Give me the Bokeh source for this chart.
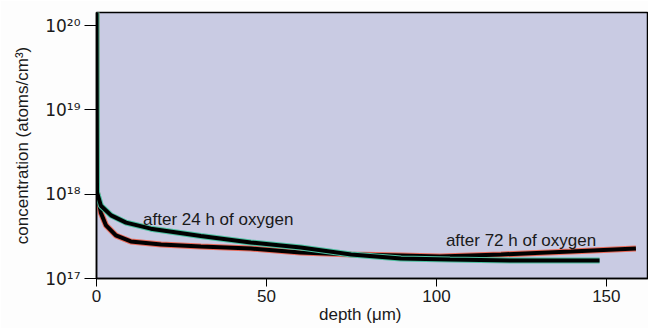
import numpy as np
from bokeh.plotting import figure
from bokeh.models import Range1d, FixedTicker, Label, LinearAxis, CustomJSTickFormatter
from bokeh.embed import file_html
from bokeh.resources import INLINE

# data
depth_24h = [0, 0.15, 1.3, 4.3, 8.7, 16, 30.7, 45.4, 60.1, 74.9, 89.6, 104, 125, 148]
conc_24h = [1.5e20, 1.05e18, 7.3e17, 5.6e17, 4.6e17, 3.9e17, 3.2e17, 2.67e17, 2.33e17,
            1.93e17, 1.73e17, 1.68e17, 1.63e17, 1.63e17]
depth_72h = [0, 0.15, 1.3, 2.8, 5.7, 10.1, 19, 30.7, 45.4, 60, 75, 89.6, 101, 119, 139.6, 158.7]
conc_72h = [1.5e20, 1.05e18, 6.0e17, 4.26e17, 3.24e17, 2.75e17, 2.53e17, 2.4e17, 2.27e17,
            2.04e17, 1.93e17, 1.87e17, 1.82e17, 1.93e17, 2.09e17, 2.27e17]
x_ticks = [0, 50, 100, 150]
y_ticks = [1e17, 1e18, 1e19, 1e20]
y_tick_labels = ["10\u00b9\u2077", "10\u00b9\u2078", "10\u00b9\u2079", "10\u00b2\u2070"]
x_title = "depth (\u03bcm)"
x_title_at = 77.6
y_title = "concentration (atoms/cm\u00b3)"
label_24h = ("after 24 h of oxygen", 13.7, 5.0e17)
label_72h = ("after 72 h of oxygen", 102.8, 2.82e17)

FONT = "Liberation Sans"
INK = "#1a1a1a"

p = figure(width=648, height=328, output_backend="svg", toolbar_location=None,
           y_axis_type="log",
           x_range=Range1d(0, 162.4), y_range=Range1d(1e17, 10**20.155))
p.min_border_left = 96
p.min_border_right = 0
p.min_border_top = 12
p.min_border_bottom = 50
p.background_fill_color = "#c9cbe3"
p.border_fill_color = "#fdfdfd"
p.outline_line_color = "black"
p.outline_line_width = 1.5
p.grid.visible = False

# curves: coloured halo under black stroke
p.line(depth_72h, conc_72h, line_color="#e86a5a", line_width=6)
p.line(depth_72h, conc_72h, line_color="black", line_width=4)
p.line(depth_24h, conc_24h, line_color="#4cc0a0", line_width=6)
p.line(depth_24h, conc_24h, line_color="black", line_width=4)

for txt, x, y in (label_24h, label_72h):
    p.add_layout(Label(x=x, y=y, text=txt, text_font=FONT, text_font_size="17px",
                       text_color=INK, text_baseline="alphabetic"))

xa = p.xaxis[0]
xa.ticker = FixedTicker(ticks=x_ticks)
xa.minor_tick_line_color = None
xa.major_tick_out = 8
xa.major_tick_in = 0
xa.major_label_text_font = FONT
xa.major_label_text_font_size = "17px"
xa.major_label_text_color = INK
xa.major_label_standoff = 3
xa.axis_line_color = "black"
xa.axis_line_width = 1.5

# x-axis title as a one-tick axis so it sits where the reference has it
xt = LinearAxis(ticker=FixedTicker(ticks=[x_title_at]),
                formatter=CustomJSTickFormatter(args=dict(t=x_title), code="return t;"))
xt.axis_line_color = None
xt.major_tick_line_color = None
xt.minor_tick_line_color = None
xt.major_tick_out = 0
xt.major_tick_in = 0
xt.major_label_standoff = 0
xt.major_label_text_font = FONT
xt.major_label_text_font_size = "17px"
xt.major_label_text_color = INK
p.add_layout(xt, "below")

ya = p.yaxis[0]
ya.ticker = FixedTicker(ticks=y_ticks)
ya.formatter = CustomJSTickFormatter(args=dict(labels=y_tick_labels),
                                     code="return labels[Math.round(Math.log10(tick)) - 17];")
ya.minor_tick_line_color = None
ya.major_tick_out = 12
ya.major_tick_in = 0
ya.major_label_text_font = "DejaVu Sans"
ya.major_label_text_font_size = "17px"
ya.major_label_text_color = INK
ya.major_label_standoff = 4
ya.axis_line_color = "black"
ya.axis_line_width = 1.5
ya.axis_label = y_title
ya.axis_label_text_font = FONT
ya.axis_label_text_font_size = "17px"
ya.axis_label_text_font_style = "normal"
ya.axis_label_text_color = INK
ya.axis_label_standoff = 10

open("out.html", "w").write(file_html(p, INLINE))
